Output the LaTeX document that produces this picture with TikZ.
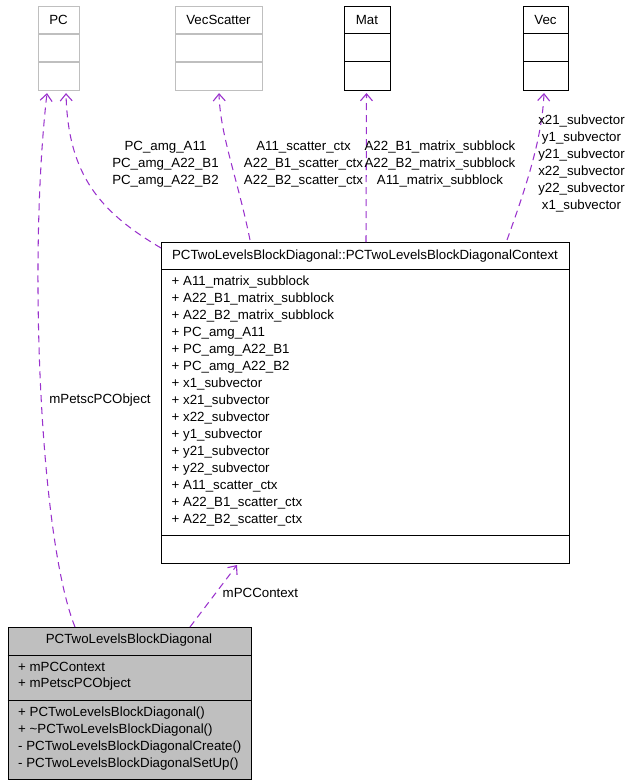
\documentclass[tikz,border=0pt]{standalone}
\usepackage{fontspec}
\setmainfont{Liberation Sans}
\usetikzlibrary{arrows.meta,calc}
\definecolor{edgepurple}{HTML}{9A32CD}
\definecolor{boxgray}{HTML}{BFBFBF}
\tikzset{
  txt/.style={inner sep=0pt,font=\fontsize{13.3}{17}\selectfont},
  ltxt/.style={txt,anchor=west},
  ctxt/.style={txt,align=center},
  umlbox/.style={draw=black,line width=1pt,anchor=north west,inner sep=0pt},
  graybox/.style={draw=boxgray,line width=1.1pt,anchor=north west,inner sep=0pt},
  dep/.style={draw=edgepurple,line width=1.05pt,dashed,dash pattern=on 7pt off 5pt,
    -{Straight Barb[length=7pt,width=12pt,line width=1.1pt]}},
}
\begin{document}
\begin{tikzpicture}[x=1pt,y=-1pt]
\useasboundingbox (0,0) rectangle (628,784);
% top boxes
\node[graybox,minimum width=41,minimum height=84] (pc) at (38,6) {};
\draw[boxgray,line width=1.1pt] (38,34) -- (79,34) (38,62) -- (79,62);
\node[txt] (pct) at (58.5,20) {PC};
\node[graybox,minimum width=87,minimum height=84] (vs) at (175,6) {};
\draw[boxgray,line width=1.1pt] (175,34) -- (262,34) (175,62) -- (262,62);
\node[txt] (vst) at (218.5,20) {VecScatter};
\node[umlbox,minimum width=46,minimum height=84] (mat) at (344,6) {};
\draw[line width=1pt] (344,34) -- (390,34) (344,62) -- (390,62);
\node[txt] (matt) at (367,20) {Mat};
\node[umlbox,minimum width=45,minimum height=84] (vec) at (523,6) {};
\draw[line width=1pt] (523,34) -- (568,34) (523,62) -- (568,62);
\node[txt] (vect) at (545.5,20) {Vec};
% context box
\node[umlbox,minimum width=408,minimum height=321] (ctx) at (161,242) {};
\draw[line width=1pt] (161,269) -- (569,269) (161,535) -- (569,535);
\node[txt] (ctxt) at (365,256) {PCTwoLevelsBlockDiagonal::PCTwoLevelsBlockDiagonalContext};
\foreach \t [count=\i from 0] in {A11\_matrix\_subblock,A22\_B1\_matrix\_subblock,A22\_B2\_matrix\_subblock,PC\_amg\_A11,PC\_amg\_A22\_B1,PC\_amg\_A22\_B2,x1\_subvector,x21\_subvector,x22\_subvector,y1\_subvector,y21\_subvector,y22\_subvector,A11\_scatter\_ctx,A22\_B1\_scatter\_ctx,A22\_B2\_scatter\_ctx}
  \node[ltxt] (ca\i) at (171.5,282.3+17*\i) {+ \t};
% main box
\node[umlbox,fill=boxgray,minimum width=243,minimum height=152] (main) at (7.5,627) {};
\draw[line width=1pt] (7.5,655) -- (250.5,655) (7.5,700) -- (250.5,700);
\node[txt] (maint) at (129,640.5) {PCTwoLevelsBlockDiagonal};
\node[ltxt] (ma1) at (18,667.3) {+ mPCContext};
\node[ltxt] (ma2) at (18,684.3) {+ mPetscPCObject};
\node[ltxt] (mm1) at (18,713.3) {+ PCTwoLevelsBlockDiagonal()};
\node[ltxt] (mm2) at (18,730.3) {+ \textasciitilde PCTwoLevelsBlockDiagonal()};
\node[ltxt] (mm3) at (18,747.3) {- PCTwoLevelsBlockDiagonalCreate()};
\node[ltxt] (mm4) at (18,764.3) {- PCTwoLevelsBlockDiagonalSetUp()};
% connectors
\draw[dep] ($(main.north west)+(67.5,0)$) .. controls (40,540) and (28,260) .. ($(pc.south west)+(9,2)$);
\draw[dep] ($(ctx.north west)+(0,6)$) .. controls (100,212) and (68,175) .. ($(pc.south west)+(28,2)$);
\draw[dep] ($(ctx.north west)+(89,-2)$) .. controls (238,180) and (220,135) .. ($(vs.south)+(0,2)$);
\draw[dep] ($(ctx.north west)+(205,0)$) -- ($(mat.south)+(-1,2)$);
\draw[dep] ($(ctx.north west)+(346,-2)$) .. controls (525,190) and (542,140) .. ($(vec.south)+(-2,2)$);
\draw[dep] ($(main.north west)+(182.5,0)$) -- ($(ctx.south west)+(76,1)$);
% labels
\node[ctxt] (l1) at (165.5,164.5) {PC\_amg\_A11\\PC\_amg\_A22\_B1\\PC\_amg\_A22\_B2};
\node[ctxt] (l2) at (303.5,164.5) {A11\_scatter\_ctx\\A22\_B1\_scatter\_ctx\\A22\_B2\_scatter\_ctx};
\node[ctxt] (l3) at (440,164.5) {A22\_B1\_matrix\_subblock\\A22\_B2\_matrix\_subblock\\A11\_matrix\_subblock};
\node[ctxt] (l4) at (581.5,164) {x21\_subvector\\y1\_subvector\\y21\_subvector\\x22\_subvector\\y22\_subvector\\x1\_subvector};
\node[txt] (l5) at (100,400) {mPetscPCObject};
\node[ltxt] (l6) at (222.5,593.3) {mPCContext};
\end{tikzpicture}
\end{document}
